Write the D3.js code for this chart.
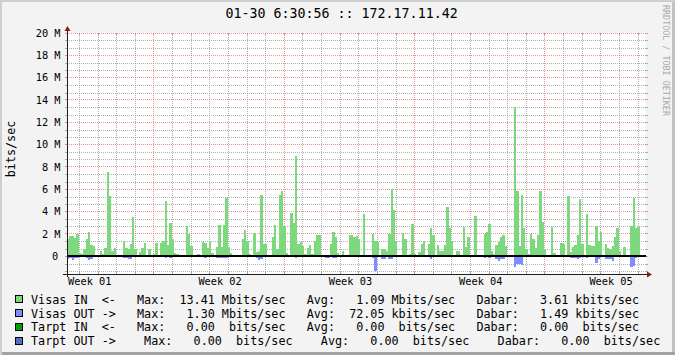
<!DOCTYPE html>
<html><head><meta charset="utf-8">
<script src="https://cdn.jsdelivr.net/npm/d3@7"></script>
<style>
html,body{margin:0;padding:0;background:#f3f3f3;}
svg{display:block;}
text{font-family:"DejaVu Sans Mono",monospace;fill:#000;}
</style>
</head><body>
<svg id="chart" width="675" height="355"></svg>
<script>
// ---------- data ----------
const title = "01-30 6:30:56 :: 172.17.11.42";
const yAxisTitle = "bits/sec";
const watermark = "RRDTOOL / TOBI OETIKER";
const weekLabels = ["Week 01", "Week 02", "Week 03", "Week 04", "Week 05"];
const yTickValues = [0, 2, 4, 6, 8, 10, 12, 14, 16, 18, 20];          // Mbit/s
const yTickLabels = ["0", "2 M", "4 M", "6 M", "8 M", "10 M", "12 M", "14 M", "16 M", "18 M", "20 M"];
const binDays = 0.125;   // 3-hour consolidation steps

// Visas IN, Mbit/s per 3h step
const visasIn = [
1.5,1.8,1.8,1.6,2.0,0.3,0.2,0.65,1.5,2.2, 1.0,0.9,0.1,0.1,0.5,0.2,0.7,7.5,5.4,0.5,
0.7,0.05,0,0.05,1.4,0.7,0.6,1.1,3.5,0.6, 0.1,0.4,0.7,1.2,0.05,0.6,0.05,0.2,1.2,0.05,
1.2,1.4,4.9,1.0,3.0,1.5,0.3,0.2,0.05,0, 0.05,2.7,2.0,0.9,0.05,0.05,0.15,0.05,1.3,1.2,
0.7,1.4,0.3,0.1,0.8,2.8,0.8,2.8,5.2,0.85, 0.3,0.05,0.05,0,0.05,1.5,2.3,1.4,0.2,0.1,
2.1,0.4,0.5,5.5,1.1,1.1,0.05,0.05,1.7,2.8, 0.6,5.5,5.8,2.7,0.3,0.1,3.9,3.0,9.0,1.1,
1.3,0.9,0.2,0.7,1.0,0.2,1.4,1.9,1.9,0.1, 0.05,0,0.05,1.1,2.2,1.7,0.3,0.05,0.5,0.05,
0.05,1.9,1.9,1.7,1.8,1.5,0.05,3.8,0.05,0, 0.05,2.0,1.4,1.3,0.05,0.6,0.6,0.5,2.0,6.0,
4.1,1.3,0.05,0.05,2.1,1.5,0.05,0.2,2.9,0.2, 0.05,0.4,1.1,1.4,0.05,1.1,2.5,1.9,0.05,1.0,
0.5,0.5,1.0,4.4,2.5,1.4,0.05,0.5,0.5,0.05, 2.6,0.85,1.7,0.1,0.05,3.6,0.1,0.05,0.1,2.0,
2.2,2.9,0.5,0.2,1.0,1.3,1.7,1.9,0.9,0.05, 0.1,0.1,13.41,5.8,0.9,5.5,2.5,0.6,0.2,2.0,
1.5,0.7,1.9,5.8,3.1,0.6,0.05,0.05,2.6,0.3, 0.05,0.05,1.2,1.1,0.05,5.4,0.4,0.85,1.0,1.9,
5.1,1.1,0.05,3.8,1.0,0.9,0.9,2.7,1.4,2.2, 0.05,1.1,0.7,0.6,0.9,1.7,2.5,0.5,0.05,0.85,
0.05,0.05,2.7,5.2,2.5,2.6
];

// Visas OUT, Mbit/s per 3h step (drawn downwards)
const visasOut = [
0.3,0.15,0.35,0.2,0.15,0.05,0,0.1,0.15,0.35, 0.3,0.1,0,0,0.05,0,0.05,0.1,0.1,0.05,
0.1,0,0,0,0.2,0.2,0.3,0.25,0.1,0.05, 0,0.05,0.05,0.1,0,0.05,0,0,0.1,0,
0.05,0.1,0.15,0.05,0.15,0.05,0.05,0,0,0, 0,0.1,0.1,0.05,0,0,0,0,0.1,0.15,
0.05,0.1,0.05,0,0.15,0.2,0.2,0.2,0.2,0.1, 0.05,0,0,0,0,0.05,0.1,0.05,0,0,
0.05,0.15,0.35,0.3,0.05,0.05,0,0,0.05,0.1, 0.05,0.1,0.1,0.05,0,0,0.1,0.05,0.15,0.05,
0.05,0.05,0,0.1,0.05,0,0.05,0.05,0.05,0, 0,0.2,0.2,0.05,0.15,0.15,0,0,0.05,0,
0,0.1,0.1,0.05,0.1,0.05,0,0.1,0,0, 0,0.2,1.3,0.1,0,0.3,0.3,0.1,0.3,0.25,
0.1,0.05,0,0,0.1,0.05,0,0,0.1,0, 0,0,0.1,0.05,0,0.1,0.3,0.1,0,0.1,
0.1,0.1,0.1,0.1,0.1,0.1,0,0,0.05,0, 0.1,0.05,0.1,0,0,0.05,0,0,0.05,0.2,
0.1,0.2,0.05,0.05,0.25,0.4,0.3,0.25,0.1,0, 0,0.05,1.0,0.7,0.7,0.8,0.1,0.05,0,0.1,
0.05,0,0.1,0.1,0.1,0,0,0,0.1,0, 0,0,0.1,0.05,0,0.1,0.15,0.2,0.2,0.3,
0.2,0.1,0,0.15,0.1,0.05,0.1,0.6,0.3,0.1, 0,0.3,0.3,0.3,0.4,0.1,0.1,0.05,0,0.05,
0,0,1.0,0.9,0.15,0.1
];

// legend
const legendNames = ["Visas IN", "Visas OUT", "Tarpt IN", "Tarpt OUT"];
const legendDirs = ["<-", "->", "<-", "->"];
const legendMax = ["13.41", "1.30", "0.00", "0.00"];
const legendMaxUnit = ["Mbits/sec", "Mbits/sec", "bits/sec", "bits/sec"];
const legendAvg = ["1.09", "72.05", "0.00", "0.00"];
const legendAvgUnit = ["Mbits/sec", "kbits/sec", "bits/sec", "bits/sec"];
const legendDabar = ["3.61", "1.49", "0.00", "0.00"];
const legendDabarUnit = ["kbits/sec", "kbits/sec", "bits/sec", "bits/sec"];
const seriesColors = ["#7ed87e", "#7f8cff", "#00a000", "#5070c4"];

// ---------- layout ----------
const W = 675, H = 355;
const X0 = 67, X1 = 645.5, YT = 33, YB = 274;
const totalDays = 31.07;
const svg = d3.select("#chart");

const x = d3.scaleLinear().domain([0, totalDays]).range([X0, X1]);
const y = d3.scaleLinear().domain([-1.6, 20]).range([YB, YT]);

// background + bevel
svg.append("rect").attr("width", W).attr("height", H).attr("fill", "#f3f3f3");
svg.append("rect").attr("x", 0).attr("y", 0).attr("width", W).attr("height", 2).attr("fill", "#cfcfcf");
svg.append("rect").attr("x", 0).attr("y", 0).attr("width", 2).attr("height", H).attr("fill", "#cfcfcf");
svg.append("rect").attr("x", W - 3).attr("y", 2).attr("width", 3).attr("height", H - 2).attr("fill", "#c2c2c2");
svg.append("rect").attr("x", 2).attr("y", H - 3).attr("width", W - 2).attr("height", 3).attr("fill", "#a2a2a2");

// canvas
svg.append("rect").attr("x", X0).attr("y", YT).attr("width", X1 - X0).attr("height", YB - YT).attr("fill", "#fff");

const gridCol = "rgba(143,143,143,0.7)";
const mgridCol = "rgba(222,79,79,0.6)";
const grid = svg.append("g").attr("shape-rendering", "crispEdges");
const px = v => Math.round(v) + 0.5;

// horizontal minor grid (every 2/3 M)
const minorH = d3.range(-2, 31).map(k => k * 2 / 3).filter(v => v > -1.6 && v <= 20 && Math.abs(v / 2 - Math.round(v / 2)) > 0.01);
minorH.forEach(v => {
  const yy = px(y(v));
  grid.append("line").attr("x1", X0 - 2).attr("x2", X0).attr("y1", yy).attr("y2", yy).attr("stroke", gridCol);
  grid.append("line").attr("x1", X1).attr("x2", X1 + 2).attr("y1", yy).attr("y2", yy).attr("stroke", gridCol);
  grid.append("line").attr("x1", X0).attr("x2", X1).attr("y1", yy).attr("y2", yy).attr("stroke", gridCol).attr("stroke-dasharray", "1,1");
});
// vertical grid: daily minor, weekly major
const dayLines = d3.range(0, 31).map(k => ({t: 0.672 + k, major: k % 7 === 4}));
dayLines.filter(d => d.t < totalDays).forEach(d => {
  const xx = px(x(d.t) - 0.5);
  const c = d.major ? mgridCol : gridCol;
  grid.append("line").attr("x1", xx).attr("x2", xx).attr("y1", YB - 2).attr("y2", YB).attr("stroke", c);
  grid.append("line").attr("x1", xx).attr("x2", xx).attr("y1", YT).attr("y2", YT + 2).attr("stroke", c);
  grid.append("line").attr("x1", xx).attr("x2", xx).attr("y1", YT).attr("y2", YB).attr("stroke", c).attr("stroke-dasharray", "1,1");
});
// horizontal major grid
yTickValues.forEach(v => {
  const yy = px(y(v) - 0.5);
  grid.append("line").attr("x1", X0 - 2).attr("x2", X0).attr("y1", yy).attr("y2", yy).attr("stroke", mgridCol);
  grid.append("line").attr("x1", X1).attr("x2", X1 + 2).attr("y1", yy).attr("y2", yy).attr("stroke", mgridCol);
  grid.append("line").attr("x1", X0).attr("x2", X1).attr("y1", yy).attr("y2", yy).attr("stroke", mgridCol).attr("stroke-dasharray", "1,1");
});

// data bars
const bars = svg.append("g").attr("shape-rendering", "crispEdges");
visasIn.forEach((v, i) => {
  if (!(v > 0)) return;
  const xa = Math.round(x(i * binDays)), xb = Math.round(x((i + 1) * binDays));
  const ya = Math.round(y(v)), yb = Math.round(y(0));
  bars.append("rect").attr("x", xa).attr("y", ya).attr("width", Math.max(1, xb - xa)).attr("height", Math.max(1, yb - ya)).attr("fill", seriesColors[0]);
});
visasOut.forEach((v, i) => {
  if (!(v > 0)) return;
  const xa = Math.round(x(i * binDays)), xb = Math.round(x((i + 1) * binDays));
  const ya = Math.round(y(0)), yb = Math.round(y(-v));
  bars.append("rect").attr("x", xa).attr("y", ya).attr("width", Math.max(1, xb - xa)).attr("height", Math.max(1, yb - ya)).attr("fill", seriesColors[1]);
});

// zero rule
svg.append("rect").attr("x", X0).attr("y", Math.round(y(0)) - 1).attr("width", X1 - X0).attr("height", 2).attr("fill", "#000").attr("shape-rendering", "crispEdges");

// axes
const axisCol = "#1f1f1f", arrowCol = "#801f1f";
svg.append("line").attr("x1", X0 - 4).attr("x2", X1 + 4).attr("y1", YB + 0.5).attr("y2", YB + 0.5).attr("stroke", axisCol).attr("shape-rendering", "crispEdges");
svg.append("line").attr("x1", X0 + 0.5).attr("x2", X0 + 0.5).attr("y1", YB + 3).attr("y2", YT - 4).attr("stroke", axisCol).attr("shape-rendering", "crispEdges");
svg.append("path").attr("d", `M${X1 + 1.5},${YB + 0.5 - 3}L${X1 + 1.5},${YB + 0.5 + 3}L${X1 + 6.5},${YB + 0.5}Z`).attr("fill", arrowCol);
svg.append("path").attr("d", `M${X0 + 0.5 - 3},${YT - 2}L${X0 + 0.5 + 3},${YT - 2}L${X0 + 0.5},${YT - 7}Z`).attr("fill", arrowCol);

// y labels
yTickValues.forEach((v, i) => {
  svg.append("text").attr("x", v === 0 ? 58.2 : 60.5).attr("y", y(v) + 3.8)
    .attr("text-anchor", "end").attr("font-size", "10.3px").text(yTickLabels[i]);
});
// x labels
weekLabels.forEach((s, i) => {
  svg.append("text").attr("x", x(1.222 + 7 * i)).attr("y", 285)
    .attr("text-anchor", "middle").attr("font-size", "10.3px").text(s);
});

// title
svg.append("text").attr("x", 341.6).attr("y", 18.3).attr("text-anchor", "middle").attr("font-size", "13.3px").text(title);
// y axis title
svg.append("text").attr("transform", "translate(15,149) rotate(-90)").attr("text-anchor", "middle").attr("font-size", "11.75px").text(yAxisTitle);
// watermark
svg.append("text").attr("transform", "translate(663,5) rotate(90)").attr("text-anchor", "start").attr("font-size", "8.4px").style("fill", "#aaaaaa").text(watermark);

// legend
const cw = 7.07, LX = 31;
const colsNormal = {name: 0, dir: 10, maxL: 15, maxV: 26, u1: 36, avgL: 39, avgV: 50, u2: 60, dabL: 63, dabV: 76, u3: 86};
const colsLast = {name: 0, dir: 10, maxL: 16, maxV: 27, u1: 37, avgL: 41, avgV: 52, u2: 62, dabL: 66, dabV: 79, u3: 89};
legendNames.forEach((name, i) => {
  const c = i === 3 ? colsLast : colsNormal;
  const by = 303.6 + 13.9 * i;
  svg.append("rect").attr("x", 15.5).attr("y", 295.5 + 14 * i).attr("width", 7).attr("height", 7)
    .attr("fill", seriesColors[i]).attr("stroke", "#000").attr("shape-rendering", "crispEdges");
  const g = svg.append("g").attr("font-size", "11.75px");
  const put = (col, s, anchor) => g.append("text").attr("x", LX + col * cw).attr("y", by).attr("text-anchor", anchor).text(s);
  put(c.name, name, "start");
  put(c.dir, legendDirs[i], "start");
  put(c.maxL, "Max:", "start");
  put(c.maxV, legendMax[i], "end");
  put(c.u1, legendMaxUnit[i], "end");
  put(c.avgL, "Avg:", "start");
  put(c.avgV, legendAvg[i], "end");
  put(c.u2, legendAvgUnit[i], "end");
  put(c.dabL, "Dabar:", "start");
  put(c.dabV, legendDabar[i], "end");
  put(c.u3, legendDabarUnit[i], "end");
});
</script>
</body></html>
